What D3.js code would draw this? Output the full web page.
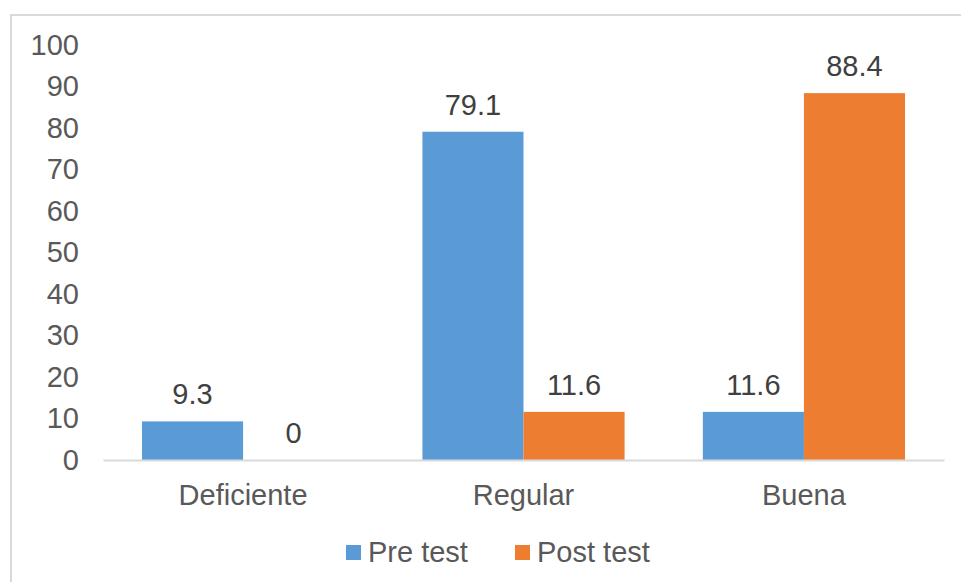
<!DOCTYPE html>
<html><head><meta charset="utf-8">
<script src="https://cdn.jsdelivr.net/npm/d3@7"></script>
<style>html,body{margin:0;padding:0;background:#fff;}svg{display:block;}</style>
</head><body>
<script>
const categories = ["Deficiente", "Regular", "Buena"];
const seriesNames = ["Pre test", "Post test"];
const preTest = [9.3, 79.1, 11.6];
const postTest = [0, 11.6, 88.4];
const yTicks = [0, 10, 20, 30, 40, 50, 60, 70, 80, 90, 100];
const colors = ["#5B9BD5", "#ED7D31"];

(function () {
const W = 961, H = 582;
const svg = d3.select("body").append("svg").attr("width", W).attr("height", H);
const font = "'Liberation Sans', Arial, sans-serif";
const textColor = "#595959";
const fs = 29;

// chart frame
svg.append("rect").attr("x", 11).attr("y", 15).attr("width", W).attr("height", H)
  .attr("fill", "none").attr("stroke", "#d9d9d9").attr("stroke-width", 2);

const pLeft = 103, pRight = 944, pTop = 45, pBottom = 460;
const x0 = d3.scaleBand().domain(categories).range([pLeft, pRight]).paddingInner(0.279).paddingOuter(0.139);
const x1 = d3.scaleBand().domain(seriesNames).range([0, x0.bandwidth()]);
const y = d3.scaleLinear().domain([0, 100]).range([pBottom, pTop]);

const data = categories.map((c, i) => ({cat: c, vals: [preTest[i], postTest[i]]}));

// y axis labels
const yAxis = d3.axisLeft(y).tickValues(yTicks).tickSize(0).tickPadding(0);
const gy = svg.append("g").attr("transform", "translate(79,0)").call(yAxis);
gy.select(".domain").remove();
gy.selectAll("text").attr("font-family", font).attr("font-size", fs).attr("fill", textColor);

// bars
const groups = svg.append("g").selectAll("g").data(data).join("g")
  .attr("transform", d => `translate(${x0(d.cat)},0)`);
groups.selectAll("rect").data(d => d.vals.map((v, j) => ({v, s: seriesNames[j], j})))
  .join("rect")
  .attr("x", d => x1(d.s)).attr("width", x1.bandwidth())
  .attr("y", d => y(d.v)).attr("height", d => y(0) - y(d.v))
  .attr("fill", d => colors[d.j]);
groups.selectAll("text").data(d => d.vals.map((v, j) => ({v, s: seriesNames[j], j})))
  .join("text")
  .attr("x", d => x1(d.s) + x1.bandwidth() / 2)
  .attr("y", d => y(d.v) - 17)
  .attr("text-anchor", "middle")
  .attr("font-family", font).attr("font-size", fs).attr("fill", "#404040")
  .text(d => d.v);

// x axis
const xAxis = d3.axisBottom(x0).tickSize(0).tickPadding(24);
const gx = svg.append("g").attr("transform", `translate(0,${pBottom})`).call(xAxis);
gx.select(".domain").attr("stroke", "#d9d9d9").attr("stroke-width", 2);
gx.selectAll("text").attr("font-family", font).attr("font-size", fs).attr("fill", textColor);

// legend
const legendX = [346, 515];
const lg = svg.append("g").selectAll("g").data(seriesNames).join("g")
  .attr("transform", (d, i) => `translate(${legendX[i]},545)`);
lg.append("rect").attr("width", 15).attr("height", 15).attr("fill", (d, i) => colors[i]);
lg.append("text").attr("x", 22).attr("y", 17).attr("font-family", font).attr("font-size", fs)
  .attr("fill", textColor).text(d => d);
})();
</script>
</body></html>
